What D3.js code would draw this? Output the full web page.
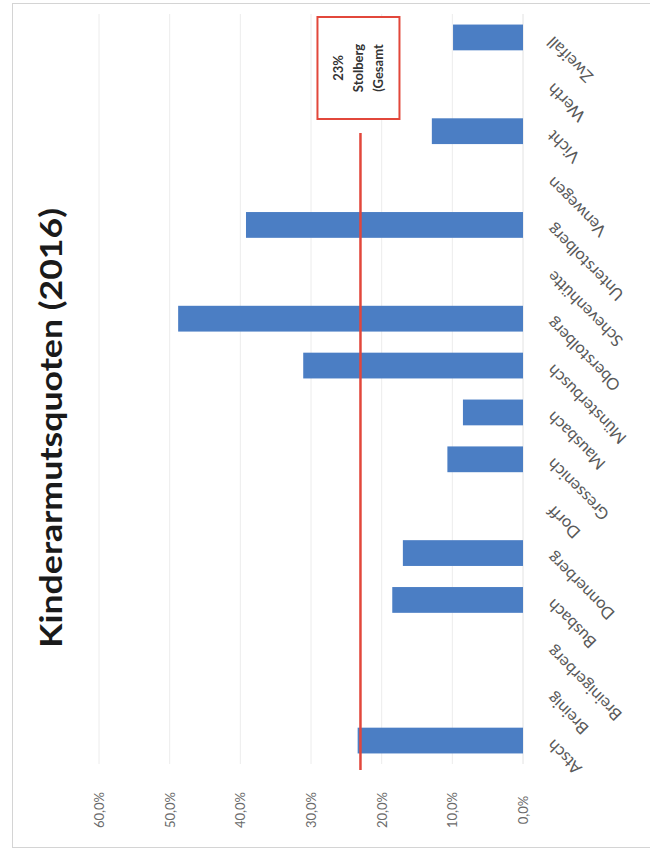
<!DOCTYPE html>
<html>
<head>
<meta charset="utf-8">
<script src="https://cdn.jsdelivr.net/npm/d3@7"></script>
<style>
  html, body { margin: 0; padding: 0; background: #ffffff; }
  svg { display: block; }
</style>
</head>
<body>
<svg id="chart" width="650" height="862"></svg>
<script>
// Ortsteile of Stolberg, in chart order
const categories = [
  "Atsch", "Breinig", "Breinigerberg", "Busbach", "Donnerberg", "Dorff",
  "Gressenich", "Mausbach", "Münsterbusch", "Oberstolberg", "Schevenhütte",
  "Unterstolberg", "Venwegen", "Vicht", "Werth", "Zweifall"
];
// Child poverty rate in percent (null = no value shown)
const quoten = [
  23.4, null, null, 18.5, 17.0, null,
  10.7, 8.5, 31.1, 48.8, null,
  39.2, null, 12.9, null, 9.9
];
const tickValues = [0, 10, 20, 30, 40, 50, 60];
const tickLabels = ["0,0%", "10,0%", "20,0%", "30,0%", "40,0%", "50,0%", "60,0%"];
const gesamtWert = 23;
const gesamtText = ["23%", "Stolberg", "(Gesamt"];
const titel = "Kinderarmutsquoten (2016)";

const svg = d3.select("#chart");
const font = "Lato, 'Open Sans', 'DejaVu Sans', sans-serif";

// The chart is laid out turned on its side: values run right-to-left,
// categories run bottom-to-top.
const x = d3.scaleLinear().domain([0, 60]).range([523, 99]);
const y = d3.scaleBand().domain(categories).range([764, 14])
  .paddingInner(0.45).paddingOuter(0.225);

// outer frame
svg.append("rect")
  .attr("x", 12.5).attr("y", 3.5).attr("width", 660).attr("height", 844)
  .attr("fill", "#ffffff").attr("stroke", "#d4d4d4").attr("stroke-width", 1);

// gridlines
svg.append("g").selectAll("line")
  .data(tickValues.filter(v => v > 0))
  .join("line")
  .attr("x1", d => x(d)).attr("x2", d => x(d))
  .attr("y1", 14).attr("y2", 764)
  .attr("stroke", "#ececec").attr("stroke-width", 1);

// category axis line
svg.append("line")
  .attr("x1", x(0)).attr("x2", x(0)).attr("y1", 14).attr("y2", 764)
  .attr("stroke", "#e2e2e2").attr("stroke-width", 1);

// value tick labels
svg.append("g").selectAll("text")
  .data(tickValues)
  .join("text")
  .attr("transform", (d) => `translate(${x(d) + 5},810) rotate(-90)`)
  .attr("text-anchor", "middle")
  .attr("font-family", font).attr("font-size", 13)
  .attr("fill", "#6a6a6a")
  .text((d, i) => tickLabels[i]);

// bars
const rows = categories.map((c, i) => ({ c, v: quoten[i] })).filter(d => d.v != null);
svg.append("g").selectAll("rect")
  .data(rows)
  .join("rect")
  .attr("x", d => x(d.v))
  .attr("y", d => y(d.c))
  .attr("width", d => x(0) - x(d.v))
  .attr("height", y.bandwidth())
  .attr("fill", "#4b7ec4");

// category labels
svg.append("g").selectAll("text")
  .data(categories)
  .join("text")
  .attr("transform", d => `translate(554,${y(d) + y.bandwidth() / 2 - 2}) rotate(-135)`)
  .attr("text-anchor", "end")
  .attr("font-family", font).attr("font-size", 16.5)
  .attr("fill", "#595959")
  .text(d => d);

// overall rate line
svg.append("line")
  .attr("x1", x(gesamtWert)).attr("x2", x(gesamtWert))
  .attr("y1", 133).attr("y2", 770)
  .attr("stroke", "#e2473b").attr("stroke-width", 2.5);

// label box for the overall rate
const boxX = x(gesamtWert) - 43;
svg.append("rect")
  .attr("x", boxX).attr("y", 17).attr("width", 82).attr("height", 102)
  .attr("fill", "#ffffff").attr("stroke", "#e2473b").attr("stroke-width", 2);
svg.append("g").selectAll("text")
  .data(gesamtText)
  .join("text")
  .attr("transform", (d, i) => `translate(${x(gesamtWert) - 22 + 4.5 + i * 20},68) rotate(-90)`)
  .attr("text-anchor", "middle")
  .attr("font-family", font).attr("font-size", 13).attr("font-weight", "bold")
  .attr("fill", "#333333")
  .text(d => d);

// title
svg.append("text")
  .attr("transform", "translate(62,428) rotate(-90)")
  .attr("text-anchor", "middle")
  .attr("font-family", font).attr("font-size", 30).attr("font-weight", "bold")
  .attr("textLength", 440).attr("lengthAdjust", "spacingAndGlyphs")
  .attr("fill", "#1a1a1a")
  .text(titel);
</script>
</body>
</html>
